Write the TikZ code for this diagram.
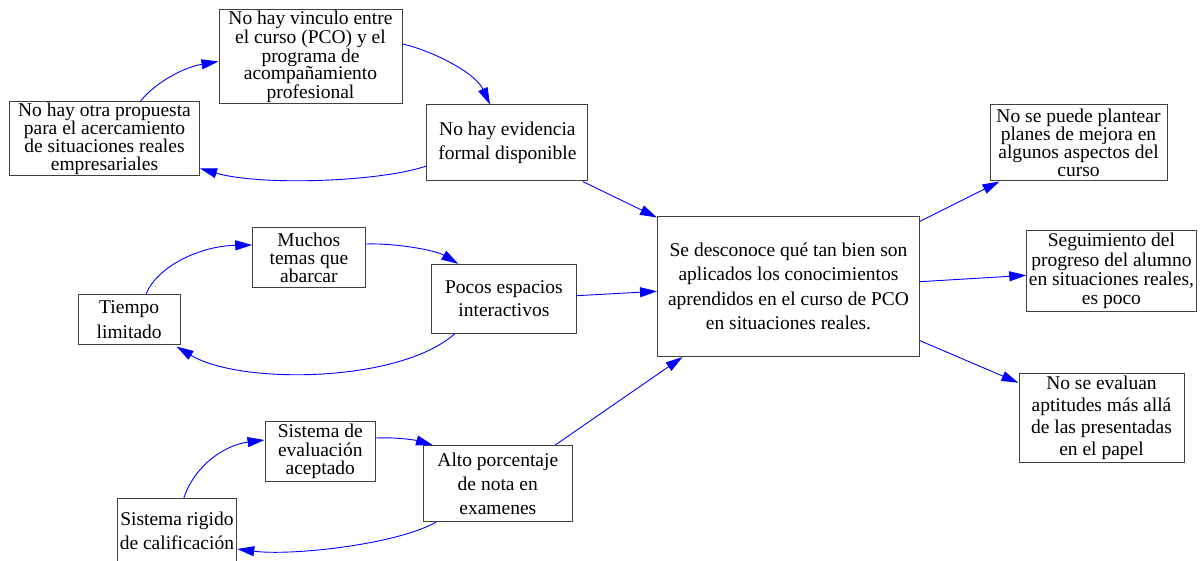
\documentclass[tikz,border=0pt]{standalone}
\usepackage{fontspec}
\setmainfont{Liberation Serif}
\usetikzlibrary{arrows.meta}
\tikzset{
  box/.style={draw=black!75, line width=1pt, rectangle, inner sep=0pt, align=center, text=black},
  edge/.style={-{Triangle[length=17pt,width=10pt]}, blue, line width=0.9pt},
}
\newcommand{\fs}[1]{\fontsize{19.5pt}{#1pt}\selectfont}
\begin{document}
\begin{tikzpicture}[x=1pt,y=-1pt]
\useasboundingbox (0,0) rectangle (1202,561);
\clip (0,0) rectangle (1202,561);
% nodes
\node[box, minimum width=183pt, minimum height=94pt, font=\fs{17.6}] (A) at (310.5,57) {No hay vinculo entre\\el curso (PCO) y el\\programa de\\acompañamiento\\profesional};
\node[box, minimum width=190pt, minimum height=74pt, font=\fs{18}] (B) at (104.5,138.5) {No hay otra propuesta\\para el acercamiento\\de situaciones reales\\empresariales};
\node[box, minimum width=161pt, minimum height=76pt, font=\fs{24.4}] (C) at (507.4,143) {No hay evidencia\\formal disponible};
\node[box, minimum width=262pt, minimum height=140.5pt, font=\fs{24.5}] (D) at (788.5,286.3) {Se desconoce qué tan bien son\\aplicados los conocimientos\\aprendidos en el curso de PCO\\en situaciones reales.};
\node[box, minimum width=112.3pt, minimum height=60pt, font=\fs{18.3}] (E) at (308.9,257.7) {Muchos\\temas que\\abarcar};
\node[box, minimum width=144.3pt, minimum height=68.7pt, font=\fs{23.5}] (F) at (503.9,298.7) {Pocos espacios\\interactivos};
\node[box, minimum width=101.7pt, minimum height=49.7pt, font=\fs{25}] (G) at (129.2,319.2) {Tiempo\\limitado};
\node[box, minimum width=110.5pt, minimum height=60.7pt, font=\fs{18.5}] (H) at (320.3,451.4) {Sistema de\\evaluación\\aceptado};
\node[box, minimum width=149.5pt, minimum height=76pt, font=\fs{24}] (I) at (497.8,483.7) {Alto porcentaje\\de nota en\\examenes};
\node[box, minimum width=119.7pt, minimum height=66pt, font=\fs{24}] (J) at (176.9,531.3) {Sistema rigido\\de calificación};
\node[box, minimum width=177pt, minimum height=76pt, font=\fs{18}] (K) at (1078.5,143) {No se puede plantear\\planes de mejora en\\algunos aspectos del\\curso};
\node[box, minimum width=169.3pt, minimum height=81pt, font=\fs{19.3}] (L) at (1111.4,271) {Seguimiento del\\progreso del alumno\\en situaciones reales,\\es poco};
\node[box, minimum width=165pt, minimum height=89pt, font=\fs{21.9}] (M) at (1101.5,417.8) {No se evaluan\\aptitudes más allá\\de las presentadas\\en el papel};
% edges
\draw[edge] ([xshift=36.2pt]B.north) .. controls (152,86) and (180,68) .. ([yshift=-4.5pt]A.west);
\draw[edge] ([yshift=13pt]A.east) .. controls (430,50) and (475,72) .. ([xshift=-17.4pt]C.north);
\draw[edge] ([yshift=-23pt]C.west) .. controls (380,182) and (260,186) .. ([yshift=-29.9pt]B.east);
\draw[edge] ([xshift=75.3pt]C.south) -- ([yshift=-2pt]D.north west);
\draw[edge] ([xshift=16.8pt]G.north) .. controls (158,266) and (200,246) .. ([yshift=12.7pt]E.west);
\draw[edge] ([yshift=13.7pt]E.east) .. controls (395,243) and (435,250) .. ([xshift=-45.6pt]F.north);
\draw[edge] ([xshift=-48.9pt]F.south) .. controls (400,383) and (240,385) .. ([xshift=-4pt,yshift=-2pt]G.south east);
\draw[edge] ([yshift=3pt]F.east) -- ([yshift=-5pt]D.west);
\draw[edge] ([xshift=7pt]J.north) .. controls (195,465) and (225,445) .. ([yshift=11.4pt]H.west);
\draw[edge] ([yshift=13.4pt]H.east) .. controls (395,437) and (415,440) .. ([xshift=-64.8pt]I.north);
\draw[edge] ([xshift=-61.8pt]I.south) .. controls (395,545) and (290,556) .. ([yshift=-17.7pt]J.east);
\draw[edge] ([xshift=57.2pt]I.north) -- ([xshift=25.5pt]D.south west);
\draw[edge] ([yshift=-5.7pt]D.north east) -- ([xshift=10pt]K.south west);
\draw[edge] ([yshift=4.6pt]D.east) -- ([yshift=-4.3pt]L.west);
\draw[edge] ([yshift=-54.4pt]D.east) -- ([yshift=-10pt]M.north west);
\end{tikzpicture}
\end{document}
